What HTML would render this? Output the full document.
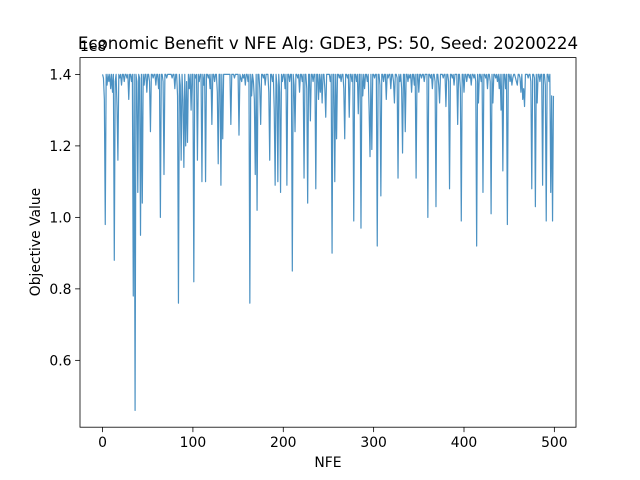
<!DOCTYPE html>
<html><head><meta charset="utf-8"><style>
body{margin:0;background:#fff;}
svg{display:block;font-family:"DejaVu Sans","Liberation Sans",sans-serif;}
</style></head><body>
<svg id="chart" width="640" height="480" viewBox="0 0 640 480">
<rect width="640" height="480" fill="#fff"/>
<text x="80" y="51" font-size="13.9">1e8</text>
<text x="328" y="49" font-size="16.7" text-anchor="middle">Economic Benefit v NFE Alg: GDE3, PS: 50, Seed: 20200224</text>
<g id="series"></g>
<rect x="80" y="57.6" width="496" height="369.6" fill="none" stroke="#000" stroke-width="0.8"/>
<g id="xticks"></g>
<g id="yticks"></g>
<text x="328" y="467" font-size="13.9" text-anchor="middle">NFE</text>
<text transform="translate(40,242) rotate(-90)" font-size="13.9" text-anchor="middle">Objective Value</text>
</svg>
<script>
const values = [
1.40,1.39,1.33,0.98,1.40,1.37,1.40,1.38,1.40,1.36,1.40,1.35,1.40,0.88,1.38,1.40,1.31,1.16,1.40,1.39,1.40,1.37,1.40,1.40,1.38,
1.40,1.40,1.39,1.40,1.33,1.40,1.40,1.38,1.40,0.78,1.40,0.46,1.40,1.38,1.07,1.40,1.39,0.95,1.40,1.04,1.40,1.37,1.40,1.40,1.35,
1.40,1.40,1.38,1.24,1.40,1.40,1.39,1.40,1.40,1.37,1.40,1.40,1.36,1.40,1.00,1.40,1.40,1.38,1.12,1.40,1.40,1.39,1.40,1.40,1.40,
1.40,1.40,1.39,1.40,1.40,1.36,1.40,1.40,1.34,0.76,1.40,1.37,1.16,1.40,1.33,1.14,1.40,1.20,1.38,1.21,1.40,1.36,1.40,1.30,1.40,
1.40,0.82,1.40,1.39,1.40,1.16,1.40,1.38,1.40,1.40,1.10,1.40,1.37,1.40,1.10,1.40,1.40,1.39,1.40,1.36,1.40,1.26,1.40,1.40,1.38,
1.40,1.40,1.35,1.15,1.40,1.40,1.09,1.40,1.22,1.40,1.40,1.40,1.40,1.40,1.40,1.40,1.40,1.26,1.40,1.40,1.40,1.39,1.40,1.40,1.40,
1.40,1.23,1.40,1.39,1.38,1.40,1.39,1.40,1.37,1.40,1.40,1.38,1.40,0.76,1.40,1.34,1.40,1.38,1.33,1.12,1.40,1.02,1.40,1.40,1.36,
1.26,1.40,1.40,1.39,1.40,1.37,1.40,1.40,1.40,1.35,1.16,1.40,1.40,1.38,1.40,1.30,1.09,1.40,1.37,1.10,1.40,1.35,1.07,1.40,1.38,
1.40,1.40,1.36,1.40,1.09,1.40,1.40,1.38,1.40,1.40,0.85,1.40,1.37,1.24,1.40,1.40,1.39,1.40,1.35,1.40,1.40,1.38,1.40,1.11,1.40,
1.40,1.36,1.04,1.40,1.40,1.27,1.40,1.40,1.38,1.40,1.40,1.08,1.40,1.40,1.33,1.40,1.35,1.40,1.32,1.40,1.40,1.36,1.28,1.40,1.40,
1.40,1.40,1.38,1.40,0.90,1.40,1.40,1.10,1.40,1.22,1.40,1.40,1.39,1.40,1.38,1.40,1.40,1.36,1.22,1.40,1.40,1.39,1.40,1.28,1.40,
1.40,1.38,1.40,0.99,1.40,1.40,1.38,1.40,1.29,1.40,1.40,0.97,1.40,1.34,1.40,1.36,1.40,1.40,1.38,1.40,1.30,1.17,1.40,1.19,1.40,
1.40,1.39,1.40,1.40,0.92,1.40,1.40,1.37,1.06,1.40,1.40,1.38,1.40,1.40,1.33,1.40,1.39,1.40,1.40,1.36,1.40,1.40,1.38,1.32,1.40,
1.40,1.39,1.11,1.40,1.38,1.40,1.36,1.18,1.40,1.40,1.24,1.40,1.40,1.38,1.40,1.39,1.40,1.35,1.40,1.40,1.37,1.40,1.11,1.40,1.40,
1.35,1.40,1.40,1.39,1.40,1.40,1.38,1.40,1.40,1.40,1.00,1.40,1.40,1.39,1.40,1.36,1.40,1.40,1.38,1.03,1.40,1.40,1.37,1.32,1.40,
1.40,1.40,1.39,1.40,1.40,1.31,1.40,1.40,1.38,1.08,1.40,1.40,1.39,1.40,1.37,1.40,1.40,1.40,1.26,1.40,1.40,1.36,0.99,1.40,1.40,
1.35,1.40,1.40,1.38,1.40,1.40,1.39,1.40,1.37,1.40,1.40,1.39,1.40,1.38,0.92,1.40,1.32,1.40,1.40,1.38,1.40,1.07,1.40,1.40,1.39,
1.40,1.36,1.40,1.40,1.38,1.01,1.40,1.32,1.40,1.40,1.39,1.40,1.38,1.40,1.36,1.40,1.30,1.40,1.13,1.40,1.40,1.36,1.40,0.98,1.40,
1.40,1.38,1.40,1.37,1.39,1.40,1.40,1.39,1.38,1.37,1.40,1.40,1.39,1.35,1.40,1.33,1.36,1.31,1.40,1.40,1.40,1.39,1.40,1.40,1.38,
1.08,1.40,1.40,1.39,1.03,1.40,1.32,1.40,1.40,1.38,1.40,1.40,1.09,1.40,1.40,1.37,0.99,1.40,1.40,1.38,1.40,1.07,1.34,0.99,1.34
];
const xTickValues = [0,100,200,300,400,500];
const yTickValues = [0.6,0.8,1.0,1.2,1.4];
const yTickLabels = ["0.6","0.8","1.0","1.2","1.4"];

const NS = "http://www.w3.org/2000/svg";
const X0 = 80, X1 = 576, Y0 = 57.6, Y1 = 427.2;
const n = values.length;
const xMin = 0 - (n - 1) * 0.05, xMax = (n - 1) + (n - 1) * 0.05;
const vMin = Math.min(...values), vMax = Math.max(...values);
const yMin = vMin - (vMax - vMin) * 0.05, yMax = vMax + (vMax - vMin) * 0.05;
function xs(v){ return X0 + (v - xMin) / (xMax - xMin) * (X1 - X0); }
function ys(v){ return Y1 - (v - yMin) / (yMax - yMin) * (Y1 - Y0); }

const series = document.getElementById('series');
const pl = document.createElementNS(NS, 'polyline');
pl.setAttribute('points', values.map((v, i) => xs(i).toFixed(2) + ',' + ys(v).toFixed(2)).join(' '));
pl.setAttribute('fill', 'none');
pl.setAttribute('stroke', '#1f77b4');
pl.setAttribute('stroke-opacity', '0.8');
pl.setAttribute('stroke-width', '1.2');
pl.setAttribute('stroke-linejoin', 'round');


series.appendChild(pl);

const xg = document.getElementById('xticks');
xTickValues.forEach(t => {
  const x = xs(t);
  const l = document.createElementNS(NS, 'line');
  l.setAttribute('x1', x); l.setAttribute('x2', x);
  l.setAttribute('y1', Y1); l.setAttribute('y2', Y1 + 4.9);
  l.setAttribute('stroke', '#000'); l.setAttribute('stroke-width', '0.8');
  
  
  xg.appendChild(l);
  const tx = document.createElementNS(NS, 'text');
  tx.setAttribute('x', x); tx.setAttribute('y', Y1 + 20);
  tx.setAttribute('font-size', '13.9'); tx.setAttribute('text-anchor', 'middle');
  tx.textContent = String(t);
  
  
  xg.appendChild(tx);
});

const yg = document.getElementById('yticks');
yTickValues.forEach((t, i) => {
  const y = ys(t);
  const l = document.createElementNS(NS, 'line');
  l.setAttribute('x1', X0 - 4.9); l.setAttribute('x2', X0);
  l.setAttribute('y1', y); l.setAttribute('y2', y);
  l.setAttribute('stroke', '#000'); l.setAttribute('stroke-width', '0.8');
  
  
  yg.appendChild(l);
  const tx = document.createElementNS(NS, 'text');
  tx.setAttribute('x', X0 - 8.5); tx.setAttribute('y', y + 5);
  tx.setAttribute('font-size', '13.9'); tx.setAttribute('text-anchor', 'end');
  tx.textContent = yTickLabels[i];
  
  
  yg.appendChild(tx);
});
</script>
</body></html>
